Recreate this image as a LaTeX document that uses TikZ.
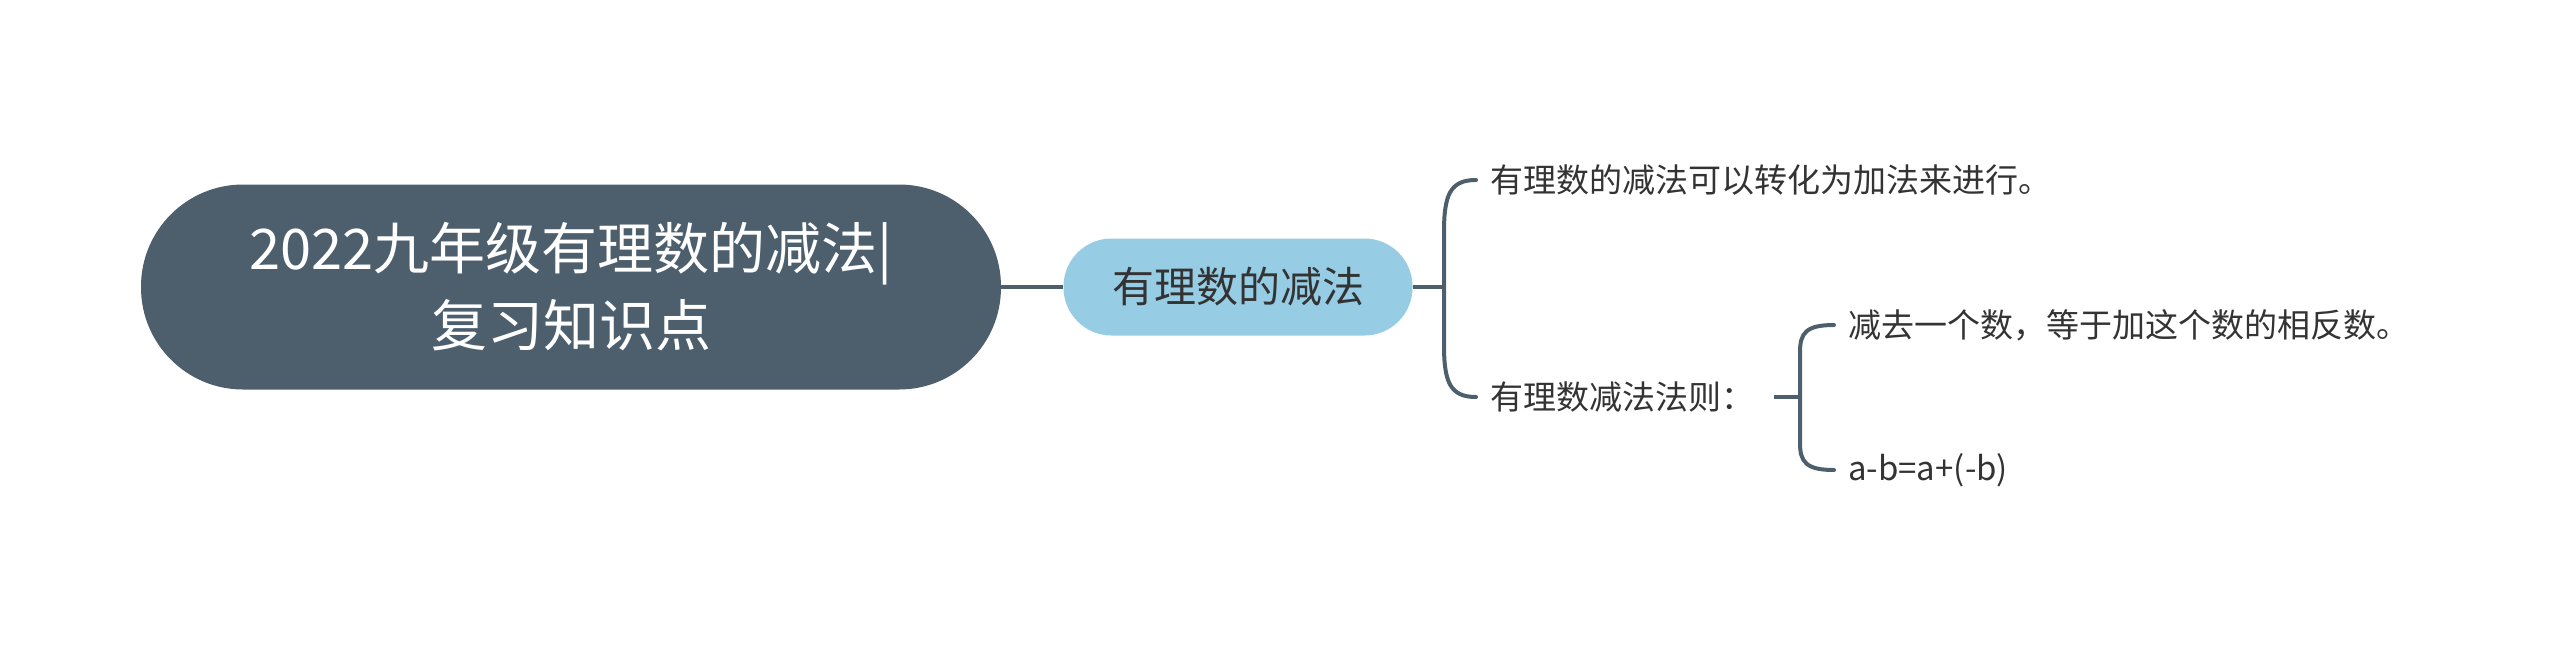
\documentclass[tikz,border=0pt]{standalone}
\usepackage{fontspec}
\setmainfont{Noto Sans CJK SC}
\usepackage{xcolor}
\usepackage{tikz}
\usetikzlibrary{positioning}
\definecolor{MapSlate}{RGB}{77,94,109}
\definecolor{MapSky}{RGB}{150,204,228}
\definecolor{MapText}{RGB}{51,51,51}

\begin{document}
\begin{tikzpicture}[
  x=1pt, y=-1pt,
  rootbox/.style={
    rounded corners=102pt,
    fill=MapSlate,
    text=white,
    font=\fontsize{56}{77}\selectfont,
    minimum width=860pt,
    minimum height=205pt,
    align=center,
    inner sep=0pt,
  },
  topicbox/.style={
    rounded corners=48pt,
    fill=MapSky,
    text=MapText,
    font=\fontsize{42}{50}\selectfont,
    minimum width=349pt,
    minimum height=97pt,
    inner sep=0pt,
  },
  leaf/.style={
    anchor=west,
    text=MapText,
    font=\fontsize{33}{40}\selectfont,
    inner xsep=14pt,
    inner ysep=0pt,
  },
  link/.style={line width=4.5pt, MapSlate},
  brace/.style={line width=4pt, MapSlate, line cap=round},
]
  \useasboundingbox (0,0) rectangle (2560,646);

  \node[rootbox] (main) at (571,287) {2022九年级有理数的减法|\\复习知识点};
  \node[topicbox] (sub) at (1238,287) {有理数的减法};

  \node[leaf] (n1) at (1476,180) {有理数的减法可以转化为加法来进行。};
  \node[leaf] (n2) at (1476,397) {有理数减法法则：};
  \node[leaf] (n21) at (1834,325) {减去一个数，等于加这个数的相反数。};
  \node[leaf] (n22) at (1834,470) {a-b=a+(-b)};

  \coordinate (b1) at (1444,287);
  \coordinate (b2) at (1800,397);

  \draw[link] (main.east) -- (sub.west);
  \draw[link] (sub.east) -- (b1);
  \draw[brace] (n1.west) .. controls (1450,180) and (1444,195) .. (1444,232)
    -- (1444,345) .. controls (1444,382) and (1450,397) .. (n2.west);

  \draw[link] ([xshift=6pt]n2.east) -- (b2);
  \draw[brace] (n21.west) .. controls (1806,325) and (1800,333) .. (1800,352)
    -- (1800,443) .. controls (1800,462) and (1806,470) .. (n22.west);
\end{tikzpicture}
\end{document}
